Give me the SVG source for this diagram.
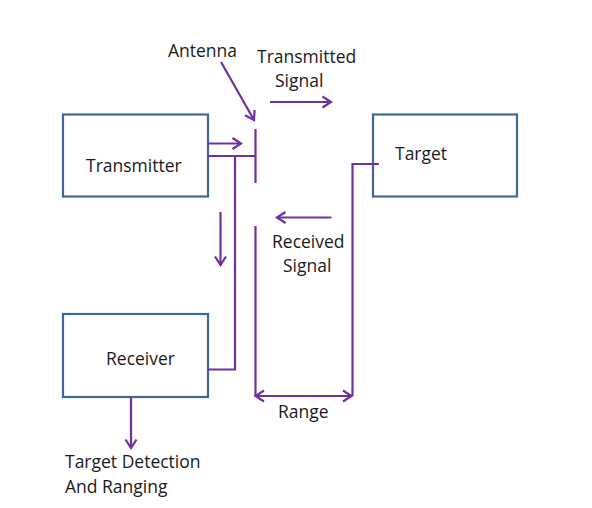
<svg xmlns="http://www.w3.org/2000/svg" width="592" height="508" viewBox="0 0 592 508">
<style>
.box{fill:#fff;stroke:#41679A;stroke-width:2.2}
.ln{fill:none;stroke:#7030A0;stroke-width:2.2}
.ar{fill:none;stroke:#7030A0;stroke-width:2.2;marker-end:url(#ah)}
text{font-family:"Open Sans","Noto Sans",sans-serif;font-size:17.5px;fill:#1a1a1a}
</style>
<defs>
<marker id="ah" markerUnits="userSpaceOnUse" viewBox="-12 -8 16 16" markerWidth="16" markerHeight="16" refX="0" refY="0" orient="auto-start-reverse">
<path d="M-8.5,-5.5 L0,0 L-8.5,5.5" fill="none" stroke="#7030A0" stroke-width="2.2"/>
</marker>
</defs>
<rect width="592" height="508" fill="#fff"/>
<g id="transmitter">
<rect class="box" x="63" y="114.5" width="145" height="82"/>
<text x="86" y="172">Transmitter</text>
</g>
<g id="target">
<rect class="box" x="373" y="114.5" width="144" height="82"/>
<text x="395" y="159.5">Target</text>
</g>
<g id="receiver">
<rect class="box" x="63" y="314" width="145" height="83"/>
<text x="106" y="365">Receiver</text>
</g>
<g id="antenna">
<line class="ln" x1="255.5" y1="129" x2="255.5" y2="183"/>
<line class="ln" x1="255.5" y1="226" x2="255.5" y2="396"/>
</g>
<g id="labels">
<text x="168" y="56.5">Antenna</text>
<text x="257" y="63">Transmitted</text>
<text x="275" y="86.5">Signal</text>
<text x="272" y="248">Received</text>
<text x="283" y="272">Signal</text>
<text x="278" y="418">Range</text>
<text x="65" y="468">Target Detection</text>
<text x="65" y="493">And Ranging</text>
</g>
<g id="connectors">
<line class="ar" x1="221" y1="62" x2="254" y2="120"/>
<line class="ar" x1="270" y1="102" x2="331" y2="102"/>
<line class="ar" x1="208" y1="143.5" x2="241" y2="143.5"/>
<polyline class="ln" points="208,156 255.5,156"/>
<polyline class="ln" points="235,156 235,369.5 208,369.5"/>
<line class="ar" x1="220.5" y1="212" x2="220.5" y2="265"/>
<line class="ar" x1="331.5" y1="217.5" x2="277" y2="217.5"/>
<polyline class="ln" points="379,164 352.5,164 352.5,396"/>
<line class="ar" x1="255.5" y1="396" x2="351.5" y2="396" marker-start="url(#ah)"/>
<line class="ar" x1="131" y1="397" x2="131" y2="448"/>
</g>
</svg>
